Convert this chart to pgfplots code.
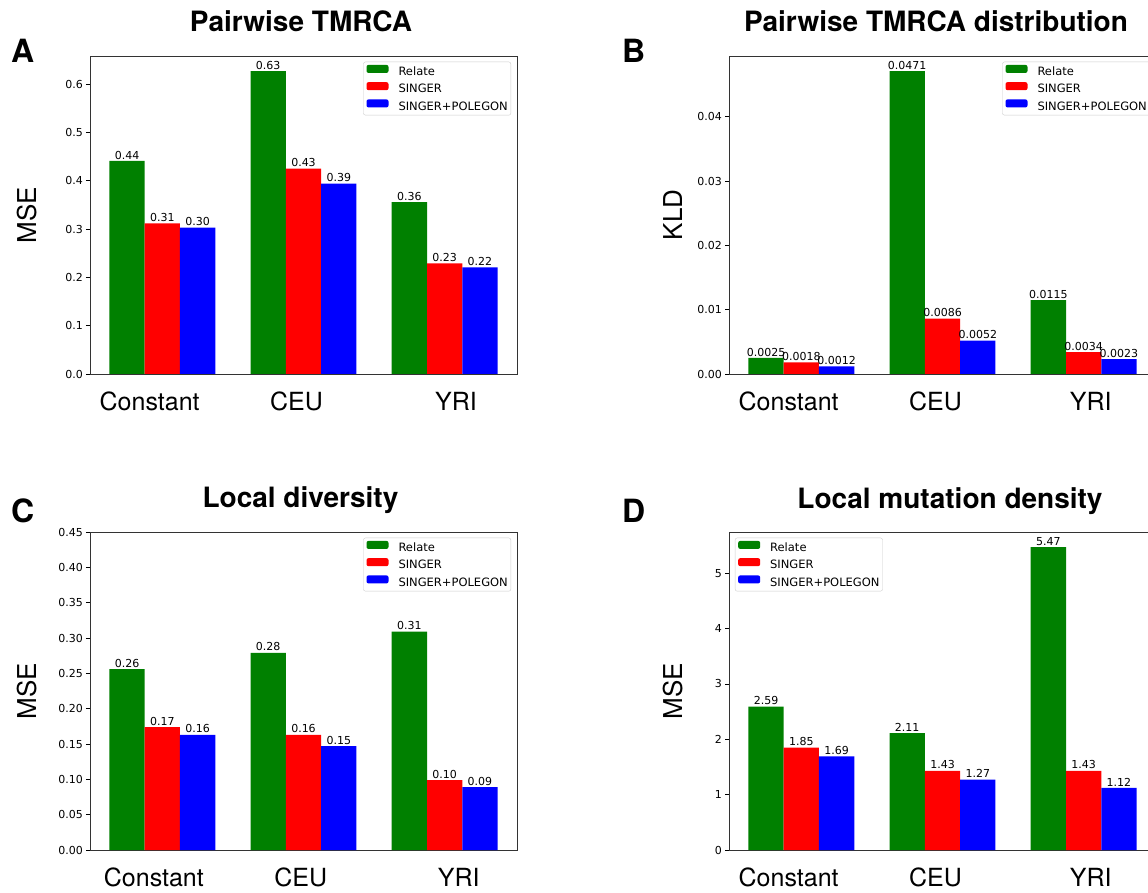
\documentclass[border=0pt]{standalone}
\usepackage{fontspec}
\usepackage{pgfplots}
\usepackage{pgfplotstable}
\pgfplotsset{compat=1.18}
\newfontfamily\dejavu{DejaVu Sans}
\newfontfamily\helv{TeX Gyre Heros}
\definecolor{mplgreen}{HTML}{008000}
\definecolor{mplred}{HTML}{FF0000}
\definecolor{mplblue}{HTML}{0000FF}

\pgfplotstableread{
x rel rellab sin sinlab sp splab
0 0.441 0.44 0.312 0.31 0.303 0.30
1 0.627 0.63 0.425 0.43 0.394 0.39
2 0.356 0.36 0.229 0.23 0.221 0.22
}\tabA
\pgfplotstableread{
x rel rellab sin sinlab sp splab
0 0.0025 0.0025 0.0018 0.0018 0.0012 0.0012
1 0.0471 0.0471 0.0086 0.0086 0.0052 0.0052
2 0.0115 0.0115 0.0034 0.0034 0.0023 0.0023
}\tabB
\pgfplotstableread{
x rel rellab sin sinlab sp splab
0 0.256 0.26 0.174 0.17 0.163 0.16
1 0.279 0.28 0.163 0.16 0.147 0.15
2 0.309 0.31 0.099 0.10 0.089 0.09
}\tabC
\pgfplotstableread{
x rel rellab sin sinlab sp splab
0 2.59 2.59 1.85 1.85 1.69 1.69
1 2.11 2.11 1.43 1.43 1.27 1.27
2 5.47 5.47 1.43 1.43 1.12 1.12
}\tabD

\pgfplotsset{
  panel/.style={
    scale only axis, width=427pt, height=318pt, anchor=south west,
    ybar, bar width=0.25, xmin=-0.5125, xmax=2.5125, ymin=0,
    scaled y ticks=false,
    axis line style={black!80, line width=0.9pt},
    tick align=outside, ytick pos=left, xtick pos=bottom,
    major tick length=4pt,
    xtick style={draw=none},
    ytick style={black, line width=0.8pt},
    yticklabel style={font=\dejavu\fontsize{11}{13}\selectfont, inner sep=0pt, xshift=-3pt},
    xticklabel style={font=\helv\fontsize{25}{27}\selectfont, inner sep=0pt, yshift=-14pt},
    ylabel style={font=\helv\fontsize{26}{28}\selectfont, anchor=center},
    title style={font=\helv\bfseries\fontsize{28}{30}\selectfont, anchor=base, at={(axis description cs:0.5,1)}, yshift=18pt},
    legend style={draw=black!20, fill=white, rounded corners=2pt,
      font=\dejavu\fontsize{11.5}{13}\selectfont,
      inner xsep=3pt, inner ysep=3pt, row sep=4.5pt,
      nodes={inner sep=0pt, text height=8.5pt, text depth=2pt},
      /tikz/every odd column/.style={column sep=10pt}},
    legend cell align=left,
    legend image code/.code={\fill[##1] (0pt,-0.5pt) rectangle (22pt,7.5pt);},
    nodes near coords, point meta=explicit symbolic,
    every node near coord/.append style={font=\dejavu\fontsize{11}{13}\selectfont, inner sep=1.5pt, black},
  },
  grn/.style={fill=mplgreen, draw=none, bar shift=-0.25},
  rd/.style={fill=mplred, draw=none, bar shift=0},
  bl/.style={fill=mplblue, draw=none, bar shift=0.25},
}

\begin{document}
\begin{tikzpicture}
\useasboundingbox (0pt,0pt) rectangle (1148pt,892pt);
\clip (0pt,0pt) rectangle (1148pt,892pt);

% Panel A
\begin{axis}[panel, at={(90pt,518pt)},
  ymax=0.6584,
  ytick={0,0.1,0.2,0.3,0.4,0.5,0.6},
  yticklabels={0.0,0.1,0.2,0.3,0.4,0.5,0.6},
  xtick={-0.09,0.95,2.08}, xticklabels={Constant,CEU,YRI},
  ylabel={MSE}, ylabel style={at={(axis description cs:-0.1475,0.5)}},
  title={Pairwise TMRCA}, title style={xshift=-2.5pt},
  legend style={at={(axis description cs:0.986,0.982)}, anchor=north east}]
\addplot[grn] table[x=x, y=rel, meta=rellab] {\tabA};
\addplot[rd] table[x=x, y=sin, meta=sinlab] {\tabA};
\addplot[bl] table[x=x, y=sp, meta=splab] {\tabA};
\legend{Relate,SINGER,SINGER+POLEGON}
\end{axis}

% Panel B
\begin{axis}[panel, at={(729pt,518pt)},
  ymax=0.04946,
  ytick={0,0.01,0.02,0.03,0.04},
  yticklabels={0.00,0.01,0.02,0.03,0.04},
  xtick={-0.09,0.95,2.05}, xticklabels={Constant,CEU,YRI},
  ylabel={KLD}, ylabel style={at={(axis description cs:-0.131,0.5)}},
  title={Pairwise TMRCA distribution}, title style={xshift=-6.5pt},
  legend style={at={(axis description cs:0.986,0.982)}, anchor=north east}]
\addplot[grn] table[x=x, y=rel, meta=rellab] {\tabB};
\addplot[rd] table[x=x, y=sin, meta=sinlab] {\tabB};
\addplot[bl] table[x=x, y=sp, meta=splab] {\tabB};
\legend{Relate,SINGER,SINGER+POLEGON}
\end{axis}

% Panel C
\begin{axis}[panel, at={(90pt,42pt)},
  ymax=0.45,
  ytick={0,0.05,0.1,0.15,0.2,0.25,0.3,0.35,0.4,0.45},
  yticklabels={0.00,0.05,0.10,0.15,0.20,0.25,0.30,0.35,0.40,0.45},
  xtick={-0.06,0.98,2.10}, xticklabels={Constant,CEU,YRI},
  ylabel={MSE}, ylabel style={at={(axis description cs:-0.1475,0.5)}},
  title={Local diversity}, title style={xshift=-3pt},
  legend style={at={(axis description cs:0.986,0.982)}, anchor=north east}]
\addplot[grn] table[x=x, y=rel, meta=rellab] {\tabC};
\addplot[rd] table[x=x, y=sin, meta=sinlab] {\tabC};
\addplot[bl] table[x=x, y=sp, meta=splab] {\tabC};
\legend{Relate,SINGER,SINGER+POLEGON}
\end{axis}

% Panel D
\begin{axis}[panel, at={(729pt,42pt)},
  ymax=5.7435,
  ytick={0,1,2,3,4,5},
  yticklabels={0,1,2,3,4,5},
  xtick={-0.09,0.95,2.05}, xticklabels={Constant,CEU,YRI},
  ylabel={MSE}, ylabel style={at={(axis description cs:-0.131,0.5)}},
  title={Local mutation density}, title style={xshift=7.5pt},
  legend style={at={(axis description cs:0.014,0.982)}, anchor=north west}]
\addplot[grn] table[x=x, y=rel, meta=rellab] {\tabD};
\addplot[rd] table[x=x, y=sin, meta=sinlab] {\tabD};
\addplot[bl] table[x=x, y=sp, meta=splab] {\tabD};
\legend{Relate,SINGER,SINGER+POLEGON}
\end{axis}

% Panel letters
\node[anchor=base west, inner sep=0pt, font=\helv\bfseries\fontsize{32}{34}\selectfont] at (11pt,829pt) {A};
\node[anchor=base west, inner sep=0pt, font=\helv\bfseries\fontsize{32}{34}\selectfont] at (622pt,829pt) {B};
\node[anchor=base west, inner sep=0pt, font=\helv\bfseries\fontsize{32}{34}\selectfont] at (11pt,369pt) {C};
\node[anchor=base west, inner sep=0pt, font=\helv\bfseries\fontsize{32}{34}\selectfont] at (622pt,369pt) {D};
\end{tikzpicture}
\end{document}
